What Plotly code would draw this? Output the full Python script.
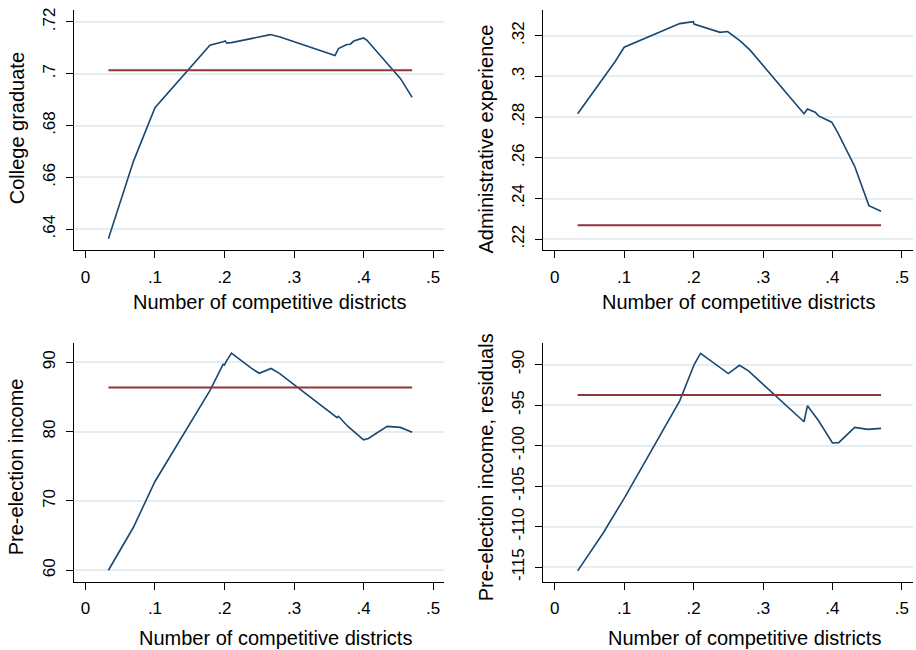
import plotly.graph_objects as go

# ---------------- data ----------------
x_college = [0.033, 0.069, 0.100, 0.179, 0.198, 0.201, 0.203, 0.210, 0.266, 0.280,
             0.359, 0.364, 0.376, 0.381, 0.386, 0.400, 0.405, 0.453, 0.470]
y_college = [0.6363, 0.6662, 0.6869, 0.7110, 0.7123, 0.7126, 0.7119, 0.7120, 0.7151, 0.7142,
             0.7070, 0.7097, 0.7113, 0.7114, 0.7126, 0.7138, 0.7129, 0.6982, 0.6909]
mean_college = 0.7013

x_admin = [0.033, 0.087, 0.100, 0.180, 0.1996, 0.2006, 0.238, 0.249, 0.267, 0.281,
           0.359, 0.364, 0.375, 0.380, 0.399, 0.408, 0.432, 0.4525, 0.470]
y_admin = [0.2816, 0.3073, 0.3143, 0.3259, 0.3269, 0.3257, 0.3216, 0.3220, 0.3174, 0.3130,
           0.2816, 0.2840, 0.2824, 0.2806, 0.2775, 0.2721, 0.2558, 0.2365, 0.2337]
mean_admin = 0.2269

x_income = [0.033, 0.069, 0.100, 0.179, 0.198, 0.200, 0.203, 0.210, 0.239, 0.250,
            0.267, 0.279, 0.362, 0.364, 0.378, 0.400, 0.407, 0.434, 0.453, 0.470]
y_income = [60.0, 66.2, 72.8, 85.9, 89.7, 89.6, 90.2, 91.3, 89.1, 88.4,
            89.1, 88.4, 82.0, 82.2, 80.7, 78.8, 79.0, 80.75, 80.6, 79.9]
mean_income = 86.35

x_resid = [0.033, 0.070, 0.101, 0.180, 0.201, 0.210, 0.250, 0.266, 0.279, 0.359,
           0.364, 0.380, 0.400, 0.409, 0.432, 0.451, 0.470]
y_resid = [-115.45, -110.74, -106.35, -94.47, -89.96, -88.61, -91.11, -90.08, -90.78, -97.05,
           -95.08, -96.93, -99.67, -99.63, -97.75, -97.99, -97.87]
mean_resid = -93.76

x_ticks = [0, 0.1, 0.2, 0.3, 0.4, 0.5]
x_ticklabels = ["0", ".1", ".2", ".3", ".4", ".5"]
x_title = "Number of competitive districts"

panels = [
    dict(x=x_college, y=y_college, mean=mean_college, title="College graduate",
         yticks=[0.64, 0.66, 0.68, 0.70, 0.72], yticklabels=[".64", ".66", ".68", ".7", ".72"],
         yrange=[0.6319, 0.7246]),
    dict(x=x_admin, y=y_admin, mean=mean_admin, title="Administrative experience",
         yticks=[0.22, 0.24, 0.26, 0.28, 0.30, 0.32], yticklabels=[".22", ".24", ".26", ".28", ".3", ".32"],
         yrange=[0.2146, 0.3326]),
    dict(x=x_income, y=y_income, mean=mean_income, title="Pre-election income",
         yticks=[60, 70, 80, 90], yticklabels=["60", "70", "80", "90"],
         yrange=[58.32, 92.82]),
    dict(x=x_resid, y=y_resid, mean=mean_resid, title="Pre-election income, residuals",
         yticks=[-115, -110, -105, -100, -95, -90],
         yticklabels=["-115", "-110", "-105", "-100", "-95", "-90"],
         yrange=[-116.81, -87.29]),
]

# ---------------- layout geometry ----------------
W, H = 916, 650
x_domains = [[74 / W, 444 / W], [543.3 / W, 913 / W]]
y_domains = [[1 - 249 / H, 1 - 8 / H], [1 - 581.7 / H, 1 - 341.7 / H]]
ytitle_pos = [(16.7, 127), (486, 137), (16, 466.7), (486, 466.7)]
xtitle_pos = [(269, 301), (738, 301), (275, 638.3), (744.5, 638.3)]

BLUE = "#1a476f"
RED = "#90353b"
GRID = "#e6edf0"
FONT = "Liberation Sans, Arial, sans-serif"

fig = go.Figure()
layout = dict(
    width=W, height=H, margin=dict(l=0, r=0, t=0, b=0),
    paper_bgcolor="white", plot_bgcolor="white", showlegend=False,
    font=dict(family=FONT, color="black", size=17),
)
annotations = []
for i, p in enumerate(panels):
    n = "" if i == 0 else str(i + 1)
    xa, ya = "x" + n, "y" + n
    fig.add_trace(go.Scatter(x=p["x"], y=p["y"], mode="lines",
                             line=dict(color=BLUE, width=1.6), xaxis=xa, yaxis=ya))
    fig.add_trace(go.Scatter(x=[min(p["x"]), max(p["x"])], y=[p["mean"], p["mean"]], mode="lines",
                             line=dict(color=RED, width=2), xaxis=xa, yaxis=ya))
    col, row = i % 2, i // 2
    layout["xaxis" + n] = dict(
        domain=x_domains[col], anchor=ya, range=[-0.0165, 0.5158 if col == 0 else 0.516],
        tickvals=x_ticks, ticktext=x_ticklabels, ticks="outside", ticklen=7, tickwidth=1.2,
        tickcolor="black", showline=True, linecolor="black", linewidth=1.2,
        showgrid=False, zeroline=False, tickfont=dict(size=17), ticklabelstandoff=4,
    )
    layout["yaxis" + n] = dict(
        domain=y_domains[row], anchor=xa, range=p["yrange"],
        tickvals=p["yticks"], ticktext=p["yticklabels"], tickangle=-90,
        ticks="outside", ticklen=7, tickwidth=1.2, tickcolor="black",
        showline=True, linecolor="black", linewidth=1.2,
        showgrid=True, gridcolor=GRID, gridwidth=1.5, zeroline=False,
        tickfont=dict(size=17), ticklabelstandoff=4,
    )
    tx, ty = ytitle_pos[i]
    annotations.append(dict(text=p["title"], x=tx / W, y=1 - ty / H, xref="paper", yref="paper",
                            showarrow=False, textangle=-90, xanchor="center", yanchor="middle",
                            font=dict(size=20, family=FONT)))
    tx, ty = xtitle_pos[i]
    annotations.append(dict(text=x_title, x=tx / W, y=1 - ty / H, xref="paper", yref="paper",
                            showarrow=False, xanchor="center", yanchor="middle",
                            font=dict(size=20, family=FONT)))
layout["annotations"] = annotations
fig.update_layout(**layout)
fig.write_html("out.html")
